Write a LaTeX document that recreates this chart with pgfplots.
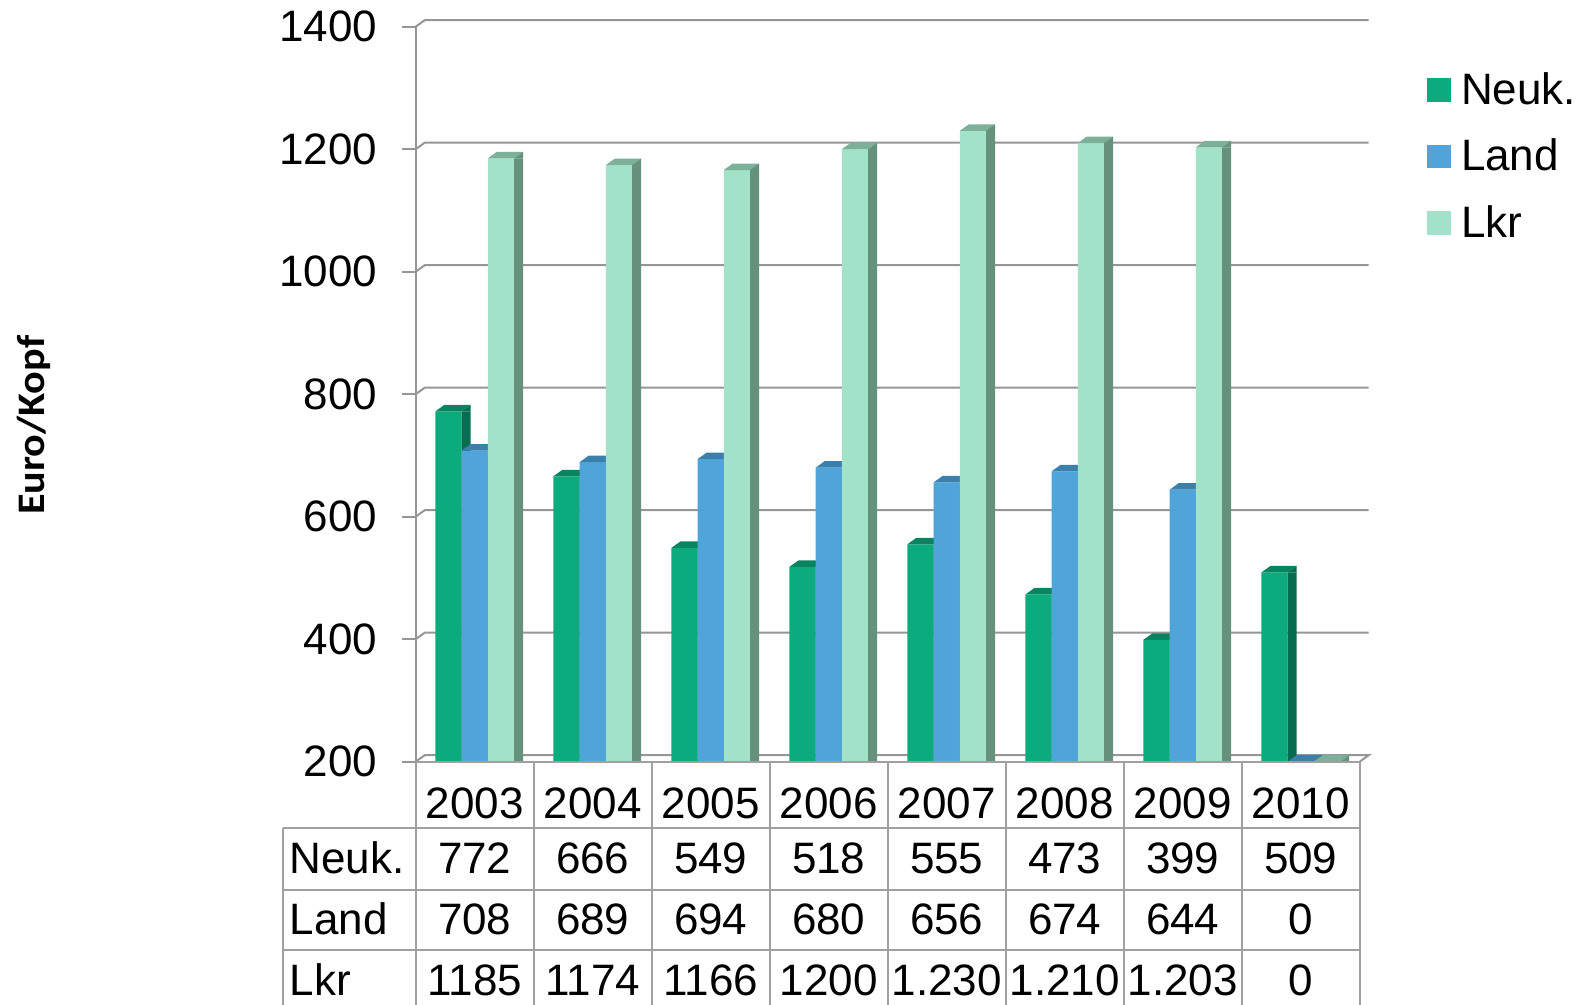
\documentclass[border=0pt]{standalone}
\usepackage{pgfplots}
\usepackage{pgfplotstable}
\pgfplotsset{compat=1.18}
\usepackage{fontspec}
\setmainfont{Liberation Sans}
\newfontfamily\calibri[FakeStretch=1.08]{Carlito}
\definecolor{neuk}{RGB}{12,171,125}
\definecolor{neuktop}{RGB}{10,132,96}
\definecolor{neukside}{RGB}{6,110,80}
\definecolor{land}{RGB}{79,165,218}
\definecolor{landtop}{RGB}{59,128,171}
\definecolor{landside}{RGB}{52,118,160}
\definecolor{lkr}{RGB}{162,226,200}
\definecolor{lkrtop}{RGB}{124,176,153}
\definecolor{lkrside}{RGB}{102,145,125}
\definecolor{gridgray}{RGB}{150,150,150}
\definecolor{tabgray}{RGB}{160,160,160}

% top face + upper side triangle of a 3D bar (offsets in pt)
\pgfdeclareplotmark{topN}{%
 \pgfpathmoveto{\pgfpoint{-19.65pt}{0pt}}\pgfpathlineto{\pgfpoint{-6.55pt}{0pt}}%
 \pgfpathlineto{\pgfpoint{-2.05pt}{3.25pt}}\pgfpathlineto{\pgfpoint{-15.15pt}{3.25pt}}\pgfpathclose
 \pgfsetfillcolor{neuktop}\pgfusepathqfill
 \pgfpathmoveto{\pgfpoint{-6.55pt}{0pt}}\pgfpathlineto{\pgfpoint{-2.05pt}{3.25pt}}%
 \pgfpathlineto{\pgfpoint{-2.05pt}{0pt}}\pgfpathclose
 \pgfsetfillcolor{neukside}\pgfusepathqfill}
\pgfdeclareplotmark{topL}{%
 \pgfpathmoveto{\pgfpoint{-6.55pt}{0pt}}\pgfpathlineto{\pgfpoint{6.55pt}{0pt}}%
 \pgfpathlineto{\pgfpoint{11.05pt}{3.25pt}}\pgfpathlineto{\pgfpoint{-2.05pt}{3.25pt}}\pgfpathclose
 \pgfsetfillcolor{landtop}\pgfusepathqfill
 \pgfpathmoveto{\pgfpoint{6.55pt}{0pt}}\pgfpathlineto{\pgfpoint{11.05pt}{3.25pt}}%
 \pgfpathlineto{\pgfpoint{11.05pt}{0pt}}\pgfpathclose
 \pgfsetfillcolor{landside}\pgfusepathqfill}
\pgfdeclareplotmark{topK}{%
 \pgfpathmoveto{\pgfpoint{6.55pt}{0pt}}\pgfpathlineto{\pgfpoint{19.65pt}{0pt}}%
 \pgfpathlineto{\pgfpoint{24.15pt}{3.25pt}}\pgfpathlineto{\pgfpoint{11.05pt}{3.25pt}}\pgfpathclose
 \pgfsetfillcolor{lkrtop}\pgfusepathqfill
 \pgfpathmoveto{\pgfpoint{19.65pt}{0pt}}\pgfpathlineto{\pgfpoint{24.15pt}{3.25pt}}%
 \pgfpathlineto{\pgfpoint{24.15pt}{0pt}}\pgfpathclose
 \pgfsetfillcolor{lkrside}\pgfusepathqfill}

\pgfplotstableread{
x neuk land lkr
0 772 708 1185
1 666 689 1174
2 549 694 1166
3 518 680 1200
4 555 656 1230
5 473 674 1210
6 399 644 1203
7 509 0 0
}\data

\pgfplotsset{sqlegend/.style={legend image code/.code={%
  \fill[##1] (0pt,-5.9pt) rectangle (11.8pt,5.9pt); \path (17pt,0pt);}}}

\newcommand\tf{\fontsize{22}{26}\selectfont}

\begin{document}
\begin{tikzpicture}
\useasboundingbox (0,0) rectangle (794.5pt,502.5pt);
% back wall grid lines (3D offset)
\foreach \L in {400,600,800,1000,1200,1400}{
  \pgfmathsetmacro\yy{121.65+(\L-200)*0.30625}
  \draw[gridgray, line width=1pt] (207.85pt,\yy pt) -- (212.35pt,\yy pt+3.25pt) -- (684.35pt,\yy pt+3.25pt);
}
% floor
\draw[gridgray, line width=1pt] (207.85pt,121.65pt) -- (212.35pt,124.9pt) -- (684.35pt,124.9pt) -- (679.85pt,121.65pt);

\begin{axis}[
  at={(207.85pt,121.65pt)}, anchor=south west,
  width=472pt, height=367.5pt, scale only axis,
  xmin=-0.5, xmax=7.5, ymin=200, ymax=1400,
  clip mode=individual,
  axis x line=none, axis y line*=left,
  y axis line style={-, draw=gridgray, line width=1pt},
  xtick=\empty,
  ytick={200,400,600,800,1000,1200,1400},
  tick align=outside, major tick length=7pt,
  ytick style={draw=gridgray, line width=1pt},
  /pgf/number format/assume math mode=true,
  /pgf/number format/1000 sep={},
  yticklabel style={font=\tf, inner sep=0pt, xshift=-12pt},
  legend style={at={(1.0713,0.9376)}, anchor=north west, draw=none, fill=none,
    inner sep=0pt, outer sep=0pt, font=\tf, row sep=15.8pt, nodes={inner sep=0pt}},
  legend cell align=left,
]
\addplot[ybar, bar width=13.1pt, bar shift=-13.1pt, fill=neuk, draw=none, sqlegend] table[x=x,y=neuk]{\data};
\addlegendentry{Neuk.}
\addplot[ybar, bar width=4.5pt, bar shift=-4.3pt, fill=neukside, draw=none, forget plot] table[x=x,y=neuk]{\data};
\addplot[only marks, mark=topN, forget plot, y filter/.expression={y<200 ? 200 : y}] table[x=x,y=neuk]{\data};

\addplot[ybar, bar width=13.1pt, bar shift=0pt, fill=land, draw=none, sqlegend] table[x=x,y=land]{\data};
\addlegendentry{Land}
\addplot[ybar, bar width=4.5pt, bar shift=8.8pt, fill=landside, draw=none, forget plot] table[x=x,y=land]{\data};
\addplot[only marks, mark=topL, forget plot, y filter/.expression={y<200 ? 200 : y}] table[x=x,y=land]{\data};

\addplot[ybar, bar width=13.1pt, bar shift=13.1pt, fill=lkr, draw=none, sqlegend] table[x=x,y=lkr]{\data};
\addlegendentry{Lkr}
\addplot[ybar, bar width=4.5pt, bar shift=21.9pt, fill=lkrside, draw=none, forget plot] table[x=x,y=lkr]{\data};
\addplot[only marks, mark=topK, forget plot, y filter/.expression={y<200 ? 200 : y}] table[x=x,y=lkr]{\data};
\end{axis}

% data table grid
\begin{scope}[tabgray, line width=1pt]
\draw (207.85pt,121.65pt) -- (679.85pt,121.65pt);
\foreach \k in {0,...,8}{ \draw (207.85pt+\k*59pt,121.65pt) -- (207.85pt+\k*59pt,-10pt); }
\draw (141.35pt,88.35pt) -- (141.35pt,-10pt);
\foreach \yy in {88.35,57.65,27.35}{ \draw (141.35pt,\yy pt) -- (679.85pt,\yy pt); }
\end{scope}
% table texts
\foreach \t [count=\i from 0] in {2003,2004,2005,2006,2007,2008,2009,2010}
  \node[font=\tf, anchor=base, inner sep=0pt] at (237.35pt+\i*59pt,93pt) {\t};
\foreach \t [count=\i from 0] in {772,666,549,518,555,473,399,509}
  \node[font=\tf, anchor=base, inner sep=0pt] at (237.35pt+\i*59pt,65.85pt) {\t};
\foreach \t [count=\i from 0] in {708,689,694,680,656,674,644,0}
  \node[font=\tf, anchor=base, inner sep=0pt] at (237.35pt+\i*59pt,35pt) {\t};
\foreach \t [count=\i from 0] in {1185,1174,1166,1200,1.230,1.210,1.203,0}
  \node[font=\tf, anchor=base, inner sep=0pt] at (237.35pt+\i*59pt,4.75pt) {\t};
\node[font=\tf, anchor=base west, inner sep=0pt] at (144.65pt,65.85pt) {Neuk.};
\node[font=\tf, anchor=base west, inner sep=0pt] at (144.65pt,35pt) {Land};
\node[font=\tf, anchor=base west, inner sep=0pt] at (144.65pt,4.75pt) {Lkr};
% y label
\node[font=\calibri\bfseries\fontsize{19.5}{22}\selectfont, rotate=90, anchor=base, inner sep=0pt] at (22.2pt,289.85pt) {Euro/Kopf};
\end{tikzpicture}
\end{document}
